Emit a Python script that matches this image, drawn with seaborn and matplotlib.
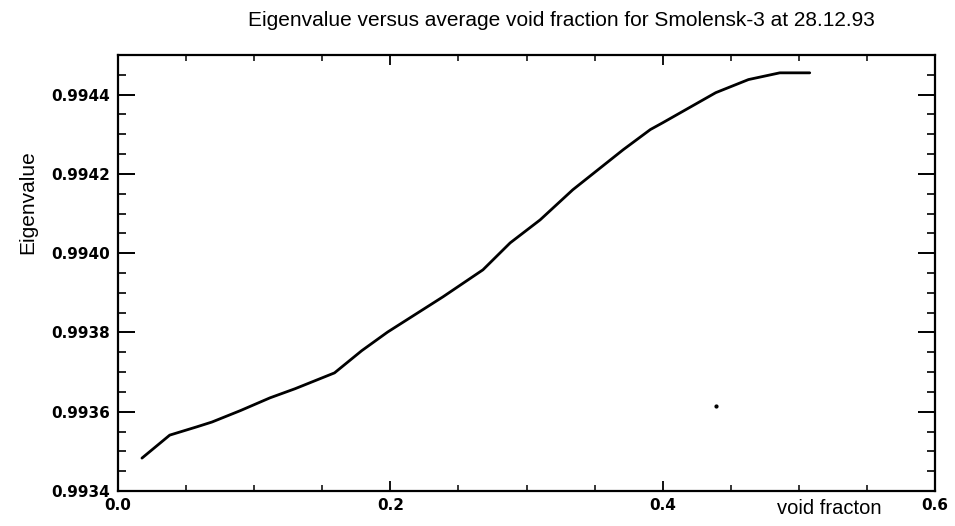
import matplotlib
matplotlib.use("Agg")
import matplotlib.pyplot as plt
import seaborn as sns
import pandas as pd
from matplotlib.ticker import MultipleLocator, FormatStrFormatter

# Void fraction vs. eigenvalue, Smolensk-3 core state 28.12.93
void_fraction = [0.0176, 0.038, 0.058, 0.069, 0.090, 0.1116, 0.130, 0.159, 0.179,
                 0.198, 0.2387, 0.268, 0.288, 0.310, 0.334, 0.371, 0.391, 0.400,
                 0.439, 0.463, 0.486, 0.508]
eigenvalue = [0.993483, 0.993541, 0.993562, 0.993574, 0.993603, 0.993635, 0.993658,
              0.993698, 0.993754, 0.993801, 0.993890, 0.993958, 0.994026, 0.994084,
              0.994160, 0.994261, 0.994312, 0.994329, 0.994405, 0.994438, 0.994455,
              0.994455]

# single isolated point below the curve
dot_x = [0.439]
dot_y = [0.993615]

title_text = "Eigenvalue versus average void fraction for Smolensk-3 at 28.12.93"
xlabel_text = "void fracton"
ylabel_text = "Eigenvalue"

sns.set_style("ticks")
plt.rcParams["text.color"] = "black"
plt.rcParams["xtick.color"] = "black"
plt.rcParams["ytick.color"] = "black"
narrow = ["Liberation Sans", "DejaVu Sans"]

df = pd.DataFrame({"void": void_fraction, "eig": eigenvalue})

fig = plt.figure(figsize=(9.55, 5.26), dpi=100)
ax = fig.add_axes([118 / 955, 1 - 491 / 526, (935 - 118) / 955, (491 - 55) / 526])

sns.lineplot(data=df, x="void", y="eig", ax=ax, color="black", linewidth=2.0,
             sort=False)
ax.scatter(dot_x, dot_y, s=4, color="black", zorder=3)

ax.set_xlim(0.0, 0.6)
ax.set_ylim(0.9934, 0.9945)
ax.xaxis.set_major_locator(MultipleLocator(0.2))
ax.xaxis.set_minor_locator(MultipleLocator(0.05))
ax.yaxis.set_major_locator(MultipleLocator(0.0002))
ax.yaxis.set_minor_locator(MultipleLocator(0.00005))
ax.xaxis.set_major_formatter(FormatStrFormatter("%.1f"))
ax.yaxis.set_major_formatter(FormatStrFormatter("%.4f"))

ax.tick_params(axis="x", which="major", direction="in", length=7, width=1.3,
               top=True, bottom=True, pad=5, colors="black")
ax.tick_params(axis="x", which="minor", direction="in", length=4, width=1.1,
               top=True, bottom=True, colors="black")
ax.tick_params(axis="y", which="major", direction="in", length=12, width=1.4,
               left=True, right=True, pad=6, colors="black")
ax.tick_params(axis="y", which="minor", direction="in", length=6, width=1.2,
               left=True, right=True, colors="black")

for lab in ax.get_xticklabels() + ax.get_yticklabels():
    lab.set_fontfamily("DejaVu Sans")
    lab.set_fontweight("bold")
    lab.set_fontsize(11)

for sp in ax.spines.values():
    sp.set_visible(True)
    sp.set_linewidth(1.6)
    sp.set_color("black")

ax.set_xlabel("")
ax.set_ylabel("")

fig.text(561 / 955, 1 - 21 / 526, title_text, ha="center", va="center",
         fontsize=15, family=narrow, color="black")
fig.text(28 / 955, 1 - 202 / 526, ylabel_text, ha="center", va="center",
         rotation=90, fontsize=15, family=narrow, color="black")
fig.text(829 / 955, 1 - 508 / 526, xlabel_text, ha="center", va="center",
         fontsize=14.5, family=narrow, color="black")

fig.savefig("out.png", dpi=100, facecolor="white")
